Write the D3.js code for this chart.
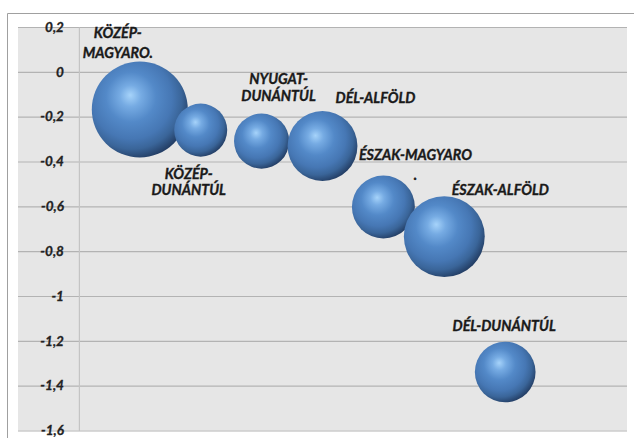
<!DOCTYPE html>
<html>
<head>
<meta charset="utf-8">
<script src="https://cdn.jsdelivr.net/npm/d3@7"></script>
<style>
  html, body { margin: 0; padding: 0; background: #ffffff; }
  svg { display: block; }
</style>
</head>
<body>
<svg id="chart" width="634" height="438"></svg>
<script>
// ---- data ----
const regions = ["KÖZÉP-MAGYARO.", "KÖZÉP-DUNÁNTÚL", "NYUGAT-DUNÁNTÚL", "DÉL-ALFÖLD", "ÉSZAK-MAGYARO.", "ÉSZAK-ALFÖLD", "DÉL-DUNÁNTÚL"];
const xValues = [2, 3, 4, 5, 6, 7, 8];
const yValues = [-0.168, -0.26, -0.309, -0.331, -0.603, -0.735, -1.339];
const sizeValues = [100, 30.5, 33, 53, 43, 71, 40];
const yTicks = [0.2, 0, -0.2, -0.4, -0.6, -0.8, -1, -1.2, -1.4, -1.6];
const yTickLabels = ["0,2", "0", "-0,2", "-0,4", "-0,6", "-0,8", "-1", "-1,2", "-1,4", "-1,6"];

// ---- label layout (style only) ----
const labelLines = [["KÖZÉP-", "MAGYARO."], ["KÖZÉP-", "DUNÁNTÚL"], ["NYUGAT-", "DUNÁNTÚL"], ["DÉL-ALFÖLD"], ["ÉSZAK-MAGYARO", "."], ["ÉSZAK-ALFÖLD"], ["DÉL-DUNÁNTÚL"]];
const labelOffsets = [[-22, -71, 20], [-12, 49, 16], [17, -57, 17], [53, -43, 17], [32, -47, 20], [56, -42, 17], [-1, -41, 17]];

const svg = d3.select("#chart");
const plot = { left: 18, right: 627, top: 27, bottom: 430.5 };

// chart area border
svg.append("path")
  .attr("d", "M7.5,438 L7.5,13.5 L634,13.5")
  .attr("fill", "none").attr("stroke", "#a0a0a0").attr("stroke-width", 1);

// plot background
svg.append("rect")
  .attr("x", plot.left).attr("y", plot.top)
  .attr("width", plot.right - plot.left).attr("height", plot.bottom - plot.top)
  .attr("fill", "#e6e6e6");

const x = d3.scaleLinear().domain([0, 10]).range([plot.left, plot.right]);
const y = d3.scaleLinear().domain([-1.6, 0.2]).range([plot.bottom, plot.top]);
const r = d3.scaleSqrt().domain([0, 100]).range([0, 48]);

// gridlines
const grid = svg.append("g")
  .attr("transform", `translate(${plot.left},0)`)
  .call(d3.axisLeft(y).tickValues(yTicks).tickSize(-(plot.right - plot.left)).tickFormat(""));
grid.select(".domain").remove();
grid.selectAll(".tick line").attr("stroke", "#b3b3b3").attr("stroke-width", 1.2);

// vertical axis (crosses at x = 1)
const yAxis = svg.append("g")
  .attr("transform", `translate(${x(1)},0)`)
  .call(d3.axisLeft(y).tickValues(yTicks).tickSize(0).tickPadding(15)
    .tickFormat((d, i) => yTickLabels[i]));
yAxis.select(".domain").attr("stroke", "#c4c4c4").attr("stroke-width", 1.2);
yAxis.selectAll(".tick text")
  .attr("font-family", "Lato, 'Open Sans', sans-serif")
  .attr("font-size", 13.5).attr("font-weight", "bold").attr("font-style", "italic")
  .attr("fill", "#222").attr("stroke", "#222").attr("stroke-width", 0.3);

// bubble gradient (highlight upper-left, dark lower-right edge)
const defs = svg.append("defs");
const grad = defs.append("radialGradient").attr("id", "ball")
  .attr("cx", "0.42").attr("cy", "0.4").attr("r", "0.62")
  .attr("fx", "0.4").attr("fy", "0.35");
[[0, "#a6d3fa"], [0.18, "#76abe3"], [0.42, "#5389c8"], [0.68, "#4677b4"], [0.84, "#3a6599"], [1, "#243f66"]]
  .forEach(([o, c]) => grad.append("stop").attr("offset", o).attr("stop-color", c));

const data = regions.map((name, i) => ({ name, x: xValues[i], y: yValues[i], s: sizeValues[i], i }));

svg.append("g").selectAll("circle")
  .data(data).join("circle")
  .attr("cx", d => x(d.x)).attr("cy", d => y(d.y)).attr("r", d => r(d.s))
  .attr("fill", "url(#ball)");

// labels
const labels = svg.append("g")
  .attr("font-family", "Lato, 'Open Sans', sans-serif")
  .attr("font-size", 14.3).attr("font-weight", "bold").attr("font-style", "italic")
  .attr("fill", "#1a1a1a").attr("stroke", "#1a1a1a").attr("stroke-width", 0.35)
  .attr("text-anchor", "middle");
data.forEach(d => {
  const [dx, dy, lh] = labelOffsets[d.i];
  const t = labels.append("text")
    .attr("x", x(d.x) + dx).attr("y", y(d.y) + dy);
  labelLines[d.i].forEach((ln, k) => {
    t.append("tspan").attr("x", x(d.x) + dx).attr("dy", k === 0 ? 0 : lh).text(ln);
  });
});
</script>
</body>
</html>
